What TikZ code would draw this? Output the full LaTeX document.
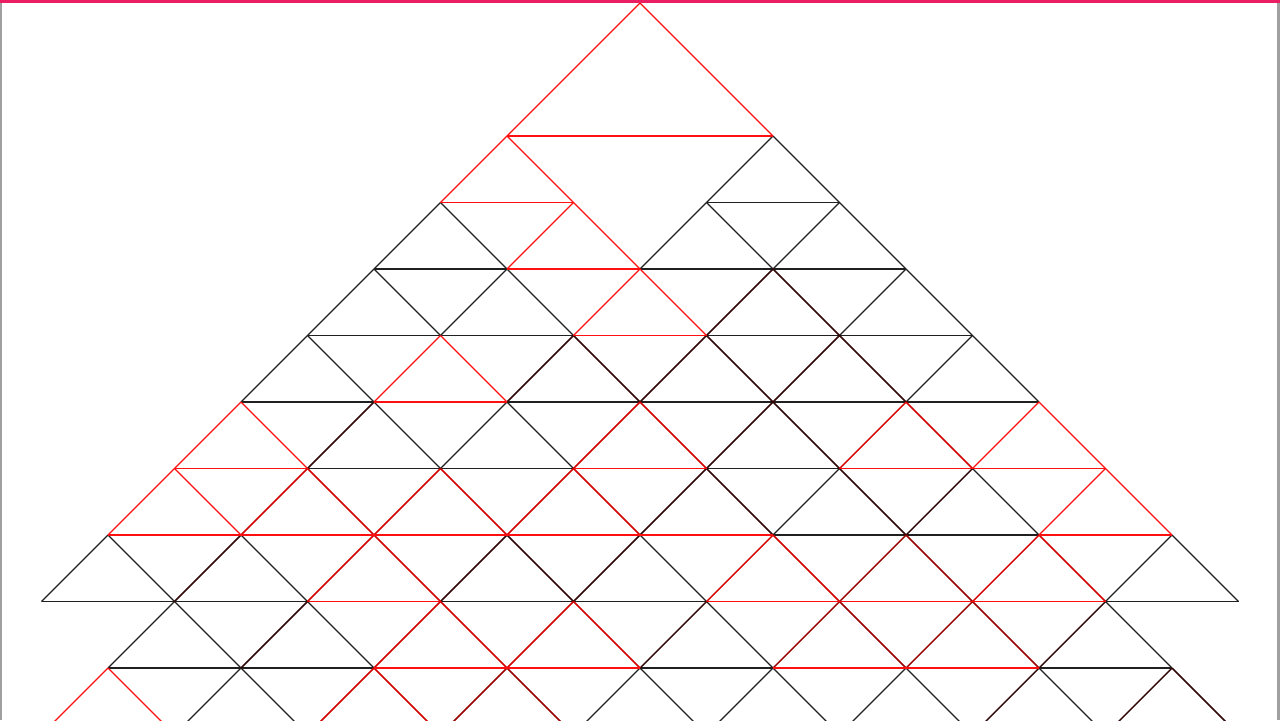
\documentclass[tikz,border=0pt]{standalone}
\usetikzlibrary{calc}
\definecolor{rbright}{HTML}{FF1010}
\definecolor{rdeep}{HTML}{D40000}
\definecolor{rdark}{HTML}{9A0000}
\definecolor{kred}{HTML}{300606}
\definecolor{kline}{HTML}{202020}
\definecolor{topbar}{HTML}{E91E63}
\definecolor{sidebar}{HTML}{A0A0A0}
\tikzset{
  edgeR/.style={draw=rbright, line width=0.34pt},
  edgeRD/.style={draw=rdeep, line width=0.42pt},
  edgeRK/.style={draw=rdark, line width=0.42pt},
  edgeKR/.style={draw=kred, line width=0.42pt},
  edgeK/.style={draw=kline, line width=0.34pt},
}
\begin{document}
\begin{tikzpicture}[x=0.01cm, y=-0.01cm]
\useasboundingbox (0,0) rectangle (1280,720);
\fill[white] (0,0) rectangle (1280,720);
% lattice vertices
\foreach \k in {0,...,11}{
  \foreach \m in {-11,...,11}{
    \coordinate (v\m r\k) at ({640+66.5*\m},{3+66.5*\k});
  }
}
\begin{scope}
\clip (0,0) rectangle (1280,720);
% black edges
\foreach \a/\b/\c/\d in {
 2/2/1/3, 2/2/3/3, 1/3/3/3,
 -3/3/-4/4, -3/3/-2/4, 1/3/0/4, 1/3/2/4, 3/3/2/4, 3/3/4/4,
 -4/4/-2/4, 0/4/2/4, 2/4/4/4,
 -4/4/-5/5, -4/4/-3/5, -2/4/-3/5, -2/4/-1/5, 4/4/3/5, 4/4/5/5,
 -5/5/-3/5, -3/5/-1/5, 1/5/3/5, 3/5/5/5,
 -5/5/-6/6, -5/5/-4/6, 5/5/4/6, 5/5/6/6,
 -6/6/-4/6, -2/6/0/6, 0/6/2/6, 2/6/4/6, 4/6/6/6,
 -4/6/-3/7, -2/6/-3/7, -2/6/-1/7,
 -5/7/-3/7, -3/7/-1/7, 1/7/3/7,
 3/7/2/8, 5/7/6/8,
 2/8/4/8, 4/8/6/8,
 -8/8/-9/9, -8/8/-7/9, -6/8/-5/9, 0/8/1/9, 8/8/7/9, 8/8/9/9,
 -9/9/-7/9, -7/9/-5/9, -3/9/-1/9, -1/9/1/9, 7/9/9/9,
 -7/9/-8/10, -7/9/-6/10, -5/9/-4/10, 1/9/2/10, 7/9/8/10,
 -8/10/-6/10, -6/10/-4/10, 0/10/2/10, 6/10/8/10,
 -6/10/-7/11, -6/10/-5/11, 0/10/-1/11, 0/10/1/11, 2/10/1/11, 2/10/3/11,
 4/10/3/11, 4/10/5/11, 6/10/7/11}
 \draw[edgeK] (v\a r\b) -- (v\c r\d);
% black-over-red edges
\foreach \a/\b/\c/\d in {
 2/4/1/5, 2/4/3/5,
 -1/5/-2/6, -1/5/0/6, 1/5/0/6, 1/5/2/6, 3/5/2/6, 3/5/4/6,
 -4/6/-5/7, 2/6/1/7, 2/6/3/7,
 1/7/0/8, 1/7/2/8, 5/7/4/8, 3/7/4/8,
 -2/8/-3/9, -2/8/-1/9, 0/8/-1/9, -6/8/-7/9,
 1/9/0/10, 7/9/6/10, -5/9/-6/10,
 6/10/5/11, 8/10/7/11, 8/10/9/11}
 \draw[edgeKR] (v\a r\b) -- (v\c r\d);
% dark red edges
\foreach \a/\b/\c/\d in {
 4/8/3/9, 4/8/5/9, 3/9/2/10, 3/9/4/10, 5/9/4/10, 5/9/6/10,
 -2/10/-3/11, -2/10/-1/11}
 \draw[edgeRK] (v\a r\b) -- (v\c r\d);
% deep red edges
\foreach \a/\b/\c/\d in {
 0/6/-1/7, 0/6/1/7, 4/6/3/7, 4/6/5/7,
 -5/7/-6/8, -5/7/-4/8, -3/7/-4/8, -3/7/-2/8, -1/7/-2/8, -1/7/0/8,
 -4/8/-5/9, -4/8/-3/9, 2/8/1/9, 2/8/3/9, 6/8/5/9, 6/8/7/9,
 -3/9/-4/10, -3/9/-2/10, -1/9/-2/10, -1/9/0/10,
 -4/10/-5/11, -4/10/-3/11}
 \draw[edgeRD] (v\a r\b) -- (v\c r\d);
% bright red edges
\foreach \a/\b/\c/\d in {
 0/0/-2/2, 0/0/2/2, -2/2/2/2,
 -2/2/-3/3, -2/2/-1/3, -3/3/-1/3,
 -1/3/-2/4, -1/3/0/4, -2/4/0/4,
 0/4/-1/5, 0/4/1/5, -1/5/1/5,
 -3/5/-4/6, -3/5/-2/6, -4/6/-2/6,
 -6/6/-7/7, -6/6/-5/7, -7/7/-5/7,
 6/6/5/7, 6/6/7/7, 5/7/7/7, 3/7/5/7, -1/7/1/7,
 -7/7/-8/8, -7/7/-6/8, -8/8/-6/8,
 7/7/6/8, 7/7/8/8, 6/8/8/8,
 -6/8/-4/8, -4/8/-2/8, -2/8/0/8, 0/8/2/8,
 -5/9/-3/9, 1/9/3/9, 3/9/5/9, 5/9/7/9,
 -4/10/-2/10, -2/10/0/10, 2/10/4/10, 4/10/6/10,
 -8/10/-9/11, -8/10/-7/11}
 \draw[edgeR] (v\a r\b) -- (v\c r\d);
\end{scope}
% frame
\fill[sidebar] (0,0) rectangle (2,720);
\fill[sidebar] (1277,0) rectangle (1280,720);
\fill[topbar] (0,0) rectangle (1280,3);
\end{tikzpicture}
\end{document}
